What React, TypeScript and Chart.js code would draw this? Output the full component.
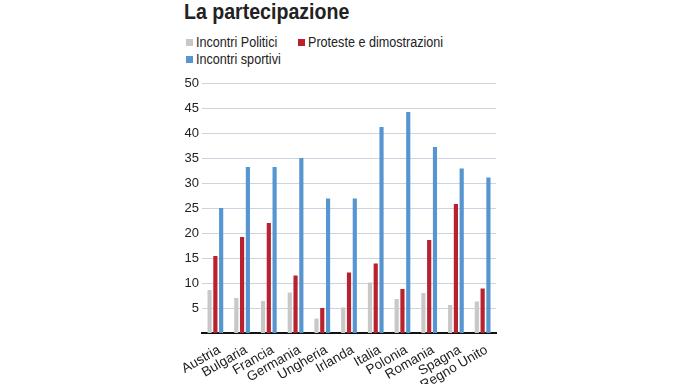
import React, { useEffect, useRef } from "react";
import { Chart, registerables } from "chart.js";

Chart.register(...registerables);

const categories = ["Austria", "Bulgaria", "Francia", "Germania", "Ungheria", "Irlanda", "Italia", "Polonia", "Romania", "Spagna", "Regno Unito"];
const seriesNames = ["Incontri Politici", "Proteste e dimostrazioni", "Incontri sportivi"];
const politici = [8.6, 7.0, 6.4, 8.1, 2.9, 5.1, 10.1, 6.8, 8.0, 5.6, 6.3];
const proteste = [15.4, 19.2, 22.0, 11.5, 5.0, 12.1, 13.9, 8.8, 18.6, 25.8, 8.9];
const sportivi = [25.0, 33.2, 33.2, 35.0, 26.9, 26.9, 41.2, 44.2, 37.2, 32.9, 31.1];
const colors = ["#c8c8c9", "#b8212d", "#5795d1"];
const yTicks = [5, 10, 15, 20, 25, 30, 35, 40, 45, 50];

const FONT = "'Liberation Sans', Arial, sans-serif";

export default function App() {
  const ref = useRef<HTMLCanvasElement>(null);
  useEffect(() => {
    if (!ref.current) return;
    const chart = new Chart(ref.current, {
      type: "bar",
      data: {
        labels: categories,
        datasets: [politici, proteste, sportivi].map((d, i) => ({
          label: seriesNames[i],
          data: d,
          backgroundColor: colors[i],
          borderWidth: 0,
          categoryPercentage: 0.65,
          barPercentage: 0.72,
        })),
      },
      options: {
        animation: false,
        responsive: false,
        maintainAspectRatio: false,
        layout: { padding: { top: 83, left: 171, right: 184, bottom: 0 } },
        plugins: { legend: { display: false }, title: { display: false }, tooltip: { enabled: false } },
        scales: {
          x: {
            grid: { display: false },
            border: { display: true, color: "#111", width: 2 },
            ticks: {
              color: "#222",
              font: { family: FONT, size: 13.5 },
              minRotation: 30,
              maxRotation: 30,
              autoSkip: false,
              padding: 1,
              labelOffset: 4,
            },
            afterFit: (s: any) => { s.height = 51; },
          },
          y: {
            min: 0,
            max: 50,
            afterBuildTicks: (s: any) => { s.ticks = yTicks.map((v) => ({ value: v })); },
            grid: { color: "#cdd4df", lineWidth: 1, drawTicks: false },
            border: { display: false },
            ticks: {
              color: "#222",
              font: { family: FONT, size: 13 },
              padding: 3,
            },
            afterFit: (s: any) => { s.width = 31; },
          },
        },
      },
    });
    return () => chart.destroy();
  }, []);

  const legendItem = (i: number, left: number, top: number) => (
    <div key={i} style={{ position: "absolute", left, top, display: "flex", alignItems: "center", whiteSpace: "nowrap" }}>
      <span style={{ display: "inline-block", width: 7, height: 7, background: colors[i], marginRight: 3 }} />
      <span style={{ fontFamily: FONT, fontSize: 14, color: "#222", display: "inline-block", transform: "scaleX(0.9)", transformOrigin: "left center" }}>{seriesNames[i]}</span>
    </div>
  );

  return (
    <div style={{ position: "fixed", left: 0, top: 0, width: 680, height: 384, background: "#fff" }}>
      <div style={{ position: "absolute", left: 184, top: 0, fontFamily: FONT, fontWeight: "bold", fontSize: 21.5, color: "#222", whiteSpace: "nowrap", transform: "scaleX(0.91)", transformOrigin: "left center" }}>
        La partecipazione
      </div>
      {legendItem(0, 186, 34)}
      {legendItem(1, 298, 34)}
      {legendItem(2, 186, 51)}
      <canvas ref={ref} width={680} height={384} style={{ position: "absolute", left: 0, top: 0 }} />
    </div>
  );
}
